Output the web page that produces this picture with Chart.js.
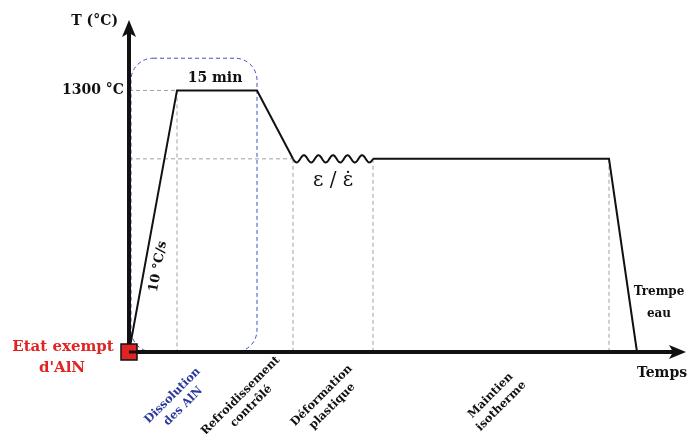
<!DOCTYPE html>
<html>
<head>
<meta charset="utf-8">
<script src="https://cdn.jsdelivr.net/npm/chart.js@4"></script>
<style>
  html, body { margin: 0; padding: 0; background: #fff; }
  #wrap { width: 689px; height: 434px; }
</style>
</head>
<body>
<div id="wrap"><canvas id="cycle" width="689" height="434"></canvas></div>
<script>
// thermal cycle (schematic): time in arbitrary units, temperature in °C
const heatTimes = [0, 12, 32, 41];
const heatTemps = [0, 1300, 1300, 960];
const holdTimes = [61, 120, 127];
const holdTemps = [960, 960, 0];
const waveStart = 41, waveEnd = 61, waveTemp = 960;

const phaseBounds = [0, 32, 41, 61, 120];
const phaseNames = [
  ["Dissolution", "des AlN"],
  ["Refroidissement", "contrôlé"],
  ["Déformation", "plastique"],
  ["Maintien", "isotherme"]
];
const phaseColors = ["#2b3a9c", "#111", "#111", "#111"];

const maxTime = 139.25;
const maxTemp = 1650;
const dissolutionBox = { x0: 0.5, x1: 32, top: 1460 };

const serif = "'DejaVu Serif', 'Liberation Serif', serif";
const guideColor = "#a0a0a0";
// small pixel nudges so the rotated labels sit like in the figure
const labelNudge = [-15, -29, -6, 5];

function toPoints(xs, ys) {
  return xs.map((x, i) => ({ x: x, y: ys[i] }));
}

const schematic = {
  id: "schematic",
  beforeDatasetsDraw(chart) {
    const ctx = chart.ctx;
    const sx = chart.scales.x, sy = chart.scales.y;
    const X = v => sx.getPixelForValue(v);
    const Y = v => sy.getPixelForValue(v);
    ctx.save();
    ctx.strokeStyle = guideColor;
    ctx.lineWidth = 1;
    ctx.setLineDash([4, 3]);
    ctx.beginPath();
    // horizontal guides
    ctx.moveTo(X(0), Y(1300)); ctx.lineTo(X(heatTimes[1]), Y(1300));
    ctx.moveTo(X(0), Y(waveTemp)); ctx.lineTo(X(waveStart), Y(waveTemp));
    // vertical guides
    ctx.moveTo(X(heatTimes[1]), Y(1300)); ctx.lineTo(X(heatTimes[1]), Y(0));
    ctx.moveTo(X(waveStart), Y(waveTemp)); ctx.lineTo(X(waveStart), Y(0));
    ctx.moveTo(X(waveEnd), Y(waveTemp)); ctx.lineTo(X(waveEnd), Y(0));
    ctx.moveTo(X(holdTimes[1]), Y(waveTemp)); ctx.lineTo(X(holdTimes[1]), Y(0));
    ctx.stroke();

    // dissolution box
    const bx0 = X(dissolutionBox.x0), bx1 = X(dissolutionBox.x1);
    const by0 = Y(dissolutionBox.top), by1 = Y(0);
    ctx.strokeStyle = "#3f51c5";
    ctx.setLineDash([4, 3]);
    ctx.beginPath();
    ctx.roundRect(bx0, by0, bx1 - bx0, by1 - by0, 22);
    ctx.stroke();
    ctx.restore();
  },
  afterDatasetsDraw(chart) {
    const ctx = chart.ctx;
    const sx = chart.scales.x, sy = chart.scales.y;
    const X = v => sx.getPixelForValue(v);
    const Y = v => sy.getPixelForValue(v);
    const x0 = X(0), y0 = Y(0);
    const area = chart.chartArea;
    ctx.save();

    // wavy deformation segment
    ctx.strokeStyle = "#111";
    ctx.lineWidth = 2;
    ctx.beginPath();
    const wx0 = X(waveStart), wx1 = X(waveEnd), wy = Y(waveTemp);
    for (let i = 0; i <= 200; i++) {
      const t = i / 200;
      const px = wx0 + t * (wx1 - wx0);
      const py = wy + 3.6 * Math.sin(t * Math.PI * 2 * 5.5);
      if (i === 0) ctx.moveTo(px, py); else ctx.lineTo(px, py);
    }
    ctx.stroke();

    // axes with arrows
    ctx.strokeStyle = "#111";
    ctx.fillStyle = "#111";
    ctx.lineWidth = 4;
    ctx.beginPath();
    ctx.moveTo(x0, y0 + 2); ctx.lineTo(x0, area.top + 12);
    ctx.moveTo(x0 - 2, y0); ctx.lineTo(area.right - 12, y0);
    ctx.stroke();
    ctx.beginPath();
    ctx.moveTo(x0, area.top);
    ctx.lineTo(x0 - 7, area.top + 17);
    ctx.lineTo(x0, area.top + 13);
    ctx.lineTo(x0 + 7, area.top + 17);
    ctx.closePath();
    ctx.fill();
    ctx.beginPath();
    ctx.moveTo(area.right, y0);
    ctx.lineTo(area.right - 17, y0 - 7);
    ctx.lineTo(area.right - 13, y0);
    ctx.lineTo(area.right - 17, y0 + 7);
    ctx.closePath();
    ctx.fill();

    // initial state marker
    ctx.fillStyle = "#e02424";
    ctx.strokeStyle = "#111";
    ctx.lineWidth = 1.5;
    ctx.fillRect(x0 - 8, y0 - 8, 16, 16);
    ctx.strokeRect(x0 - 8, y0 - 8, 16, 16);
    ctx.beginPath();
    ctx.lineWidth = 3;
    ctx.moveTo(x0, y0); ctx.lineTo(x0 + 8, y0);
    ctx.stroke();

    // texts
    ctx.fillStyle = "#111";
    ctx.textBaseline = "middle";
    ctx.font = "bold 14px " + serif;
    ctx.textAlign = "right";
    ctx.fillText("T (°C)", x0 - 11, area.top + 1);
    ctx.fillText("1300 °C", x0 - 5, Y(1300));
    ctx.textAlign = "center";
    ctx.fillText("15 min", (X(heatTimes[1]) + X(heatTimes[2])) / 2 - 2, Y(1300) - 12);
    ctx.fillText("Temps", area.right - 24, y0 + 21);
    ctx.font = "bold 12px " + serif;
    ctx.fillText("Trempe", area.right - 27, Y(300));
    ctx.fillText("eau", area.right - 27, Y(190));

    ctx.font = "20px " + serif;
    ctx.fillText("ε / ε̇", (wx0 + wx1) / 2, wy + 22);

    ctx.fillStyle = "#e02424";
    ctx.font = "bold 15px " + serif;
    ctx.fillText("Etat exempt", x0 - 66, y0 - 5);
    ctx.fillText("d'AlN", x0 - 67, y0 + 16);

    // heating rate along the ramp
    ctx.fillStyle = "#111";
    ctx.font = "bold 13px " + serif;
    const ang = Math.atan2(Y(heatTemps[1]) - y0, X(heatTimes[1]) - x0);
    ctx.save();
    ctx.translate(X(7.3), Y(425));
    ctx.rotate(ang);
    ctx.fillText("10 °C/s", 0, 0);
    ctx.restore();

    // phase labels, rotated 45°
    ctx.font = "bold 11.5px " + serif;
    phaseNames.forEach((lines, i) => {
      const mid = (X(phaseBounds[i]) + X(phaseBounds[i + 1])) / 2 + labelNudge[i];
      ctx.save();
      ctx.translate(mid, y0 + 49);
      ctx.rotate(-Math.PI / 4);
      ctx.fillStyle = phaseColors[i];
      ctx.fillText(lines[0], 0, -7.5);
      ctx.fillText(lines[1], 0, 7.5);
      ctx.restore();
    });
    ctx.restore();
  }
};

new Chart(document.getElementById("cycle"), {
  type: "scatter",
  data: {
    datasets: [
      { data: toPoints(heatTimes, heatTemps), showLine: true },
      { data: toPoints(holdTimes, holdTemps), showLine: true }
    ]
  },
  options: {
    responsive: false,
    animation: false,
    elements: {
      line: { borderColor: "#111", borderWidth: 2, tension: 0 },
      point: { radius: 0, hoverRadius: 0 }
    },
    layout: { padding: { left: 129, right: 3, top: 20, bottom: 82 } },
    scales: {
      x: { type: "linear", min: 0, max: maxTime, display: false },
      y: { type: "linear", min: 0, max: maxTemp, display: false }
    },
    plugins: { legend: { display: false }, tooltip: { enabled: false } }
  },
  plugins: [schematic]
});
</script>
</body>
</html>
